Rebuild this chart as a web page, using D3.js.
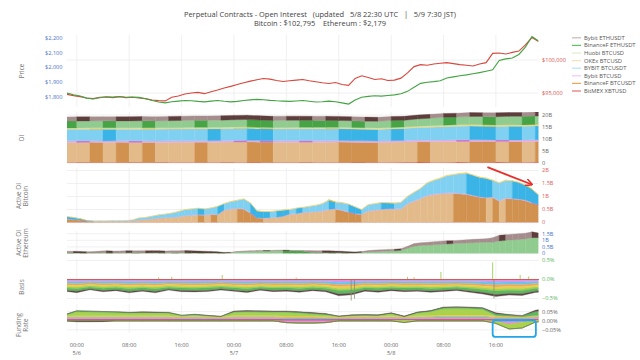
<!DOCTYPE html>
<html><head><meta charset="utf-8">
<script src="https://cdn.jsdelivr.net/npm/d3@7/dist/d3.min.js"></script>
<style>
html,body{margin:0;padding:0;background:#fff;}
svg text{font-family:"Open Sans","DejaVu Sans",sans-serif;}
</style></head>
<body><svg id="chart" width="640" height="360"></svg>
<script>
// ---------------- DATA ----------------
// hourly grid from 5/5 22:30 UTC (73 points)
const ethPrice = [1826,1815,1806,1792,1786,1795,1801,1799,1803,1798,
 1800,1797,1788,1776,1766,1760,1768,1772,1776,1774,
 1770,1767,1772,1776,1771,1767,1770,1776,1780,1784,
 1781,1777,1774,1772,1770,1773,1776,1771,1766,1768,
 1772,1768,1760,1752,1780,1798,1804,1808,1806,1810,
 1814,1822,1838,1866,1892,1900,1904,1910,1928,1936,
 1944,1950,1957,1965,1974,1984,2048,2058,2064,2088,
 2138,2210,2179];
const btcPrice = [94800,94600,94450,94250,94150,94350,94400,94300,94450,94300,
 94350,94250,94150,93950,93850,93800,94350,94550,94850,95000,
 95100,94900,95200,95450,95750,96000,96300,96550,96800,97000,
 97200,97100,96900,96750,96850,96950,97050,96850,96700,96550,
 96450,96600,96300,96150,97200,97600,97350,97050,97150,96900,
 96950,97250,98050,99000,99300,99200,99400,99500,99600,99450,
 99300,99200,99100,99400,99600,101000,101050,100900,101150,101350,
 102300,103400,102795];

// Active OI Bitcoin (B USD), hourly
const abBitmex = [0.01,0.01,0.01,0.01,0.01,0.01,0.01,0.01,0.01,0.01,
 0.01,0.01,0.01,0.01,0.01,0.01,0.01,0.01,0.01,0.01,
 0.01,0.01,0.01,0.01,0.01,0.01,0.01,0.01,0.01,0.01,
 0.01,0.01,0.01,0.01,0.01,0.01,0.01,0.01,0.01,0.01,
 0.01,0.01,0.01,0.01,0.01,0.01,0.01,0.01,0.01,0.01,
 0.01,0.01,0.01,0.01,0.01,0.02,0.02,0.02,0.02,0.02,
 0.02,0.02,0.02,0.02,0.02,0.02,0.02,0.02,0.02,0.02,
 0.02,0.02,0.02];
const abBinBtc = [0.12,0.10,0.08,0.04,0.03,0.03,0.03,0.03,0.03,0.03,
 0.05,0.08,0.10,0.12,0.15,0.17,0.18,0.20,0.24,0.26,
 0.28,0.27,0.30,0.28,0.45,0.50,0.52,0.50,0.35,0.16,
 0.15,0.16,0.18,0.22,0.30,0.32,0.36,0.38,0.40,0.42,
 0.48,0.50,0.45,0.38,0.32,0.30,0.42,0.45,0.48,0.50,
 0.50,0.50,0.70,0.80,0.90,1.00,1.05,1.08,1.10,1.10,
 1.08,1.06,1.00,0.95,0.92,0.94,0.80,0.90,0.88,0.86,
 0.82,0.72,0.65];
const abBybitBtcusd = [0.01,0.01,0.01,0.005,0.005,0.005,0.005,0.005,0.005,0.005,
 0.005,0.01,0.01,0.01,0.01,0.01,0.01,0.015,0.015,0.015,
 0.015,0.015,0.015,0.015,0.02,0.02,0.02,0.02,0.02,0.015,
 0.015,0.015,0.015,0.015,0.015,0.015,0.015,0.015,0.015,0.02,
 0.02,0.02,0.02,0.02,0.015,0.015,0.02,0.02,0.02,0.02,
 0.02,0.02,0.02,0.025,0.025,0.025,0.025,0.025,0.025,0.025,
 0.025,0.025,0.025,0.025,0.025,0.025,0.025,0.025,0.025,0.025,
 0.025,0.025,0.02];
const abBybitBtcusdt = [0.08,0.07,0.04,0.02,0.01,0.01,0.01,0.02,0.02,0.02,
 0.03,0.07,0.07,0.10,0.12,0.13,0.16,0.19,0.23,0.23,
 0.24,0.22,0.23,0.31,0.24,0.27,0.30,0.37,0.37,0.26,
 0.24,0.23,0.24,0.23,0.17,0.20,0.19,0.21,0.23,0.27,
 0.35,0.25,0.28,0.29,0.25,0.17,0.23,0.24,0.25,0.22,
 0.21,0.24,0.27,0.32,0.37,0.47,0.52,0.57,0.65,0.69,
 0.75,0.79,0.77,0.74,0.73,0.63,0.67,0.67,0.67,0.63,
 0.57,0.51,0.37];
const abOkex = [0.01,0.01,0.01,0.005,0.005,0.005,0.005,0.005,0.005,0.005,
 0.005,0.01,0.01,0.01,0.01,0.01,0.01,0.015,0.015,0.015,
 0.015,0.015,0.015,0.015,0.015,0.015,0.015,0.015,0.015,0.015,
 0.015,0.015,0.015,0.015,0.015,0.015,0.015,0.015,0.015,0.015,
 0.02,0.015,0.015,0.015,0.015,0.015,0.015,0.015,0.015,0.015,
 0.015,0.015,0.02,0.02,0.02,0.025,0.025,0.025,0.025,0.025,
 0.025,0.025,0.025,0.025,0.025,0.025,0.025,0.025,0.025,0.025,
 0.025,0.02,0.02];

// Active OI Ethereum (B USD), hourly
const aeBinEth = [0.05,0.04,0.04,0.03,0.03,0.04,0.05,0.04,0.04,0.05,
 0.05,0.04,0.04,0.05,0.06,0.05,0.05,0.04,0.05,0.04,
 0.04,0.03,0.03,0.03,0.02,
 0.06,0.12,0.15,0.16,0.17,0.18,0.19,0.20,0.21,0.20,0.19,0.18,
 0.10,0.07,0.06,0.06,0.05,0.05,0.04,0.04,0.08,0.12,0.14,
 0.16,0.18,0.20,0.24,
 0.40,0.55,0.60,0.63,0.66,0.69,0.72,0.75,0.77,0.79,0.81,0.83,0.85,0.85,0.95,1.00,1.03,1.06,1.10,1.20,1.20];
const aeBybitEth = [0.12,0.13,0.12,0.11,0.12,0.14,0.15,0.14,0.15,0.16,
 0.15,0.16,0.17,0.16,0.15,0.14,0.15,0.16,0.17,0.16,
 0.15,0.14,0.13,0.10,0.06,
 0.03,0.03,0.04,0.04,0.05,0.05,0.04,0.05,0.05,0.04,0.04,0.05,
 0.12,0.14,0.15,0.14,0.13,0.12,0.10,0.08,0.07,0.10,0.12,
 0.12,0.13,0.13,0.12,
 0.15,0.20,0.22,0.22,0.23,0.24,0.24,0.22,0.24,0.25,0.26,0.27,0.27,0.35,0.43,0.42,0.43,0.44,0.44,0.44,0.35];

// OI (B USD), 2-hourly grid from 5/5 22:00 UTC (38 points)
const oiBitmex = [0.35,0.35,0.34,0.35,0.35,0.36,0.35,0.35,0.34,0.35,0.35,0.36,0.36,0.35,0.35,0.34,0.35,0.35,0.35,0.34,0.35,0.35,0.36,0.35,0.35,0.36,0.37,0.37,0.36,0.36,0.37,0.36,0.36,0.37,0.36,0.36,0.37,0.37];
const oiBinBtc = [8.22,8.24,8.26,8.22,8.25,8.21,8.24,8.20,8.23,8.27,8.30,8.27,8.32,8.38,8.42,8.36,8.30,8.32,8.33,8.34,8.35,8.36,8.28,8.22,8.18,8.26,8.38,8.50,8.48,8.56,8.60,8.64,8.60,8.56,8.58,8.54,8.58,8.55];
const oiBybitBtcusd = [0.66,0.66,0.65,0.65,0.66,0.66,0.65,0.65,0.66,0.66,0.67,0.67,0.67,0.68,0.67,0.67,0.66,0.66,0.66,0.65,0.65,0.65,0.66,0.66,0.66,0.67,0.68,0.69,0.69,0.70,0.70,0.69,0.70,0.70,0.69,0.69,0.70,0.70];
const oiBybitBtcusdt = [4.80,4.82,4.85,4.88,4.84,4.86,4.88,4.90,4.92,4.94,4.96,4.98,4.95,5.00,5.05,4.98,4.92,4.94,4.95,4.96,4.97,4.98,4.92,4.86,4.82,4.96,4.94,5.20,5.38,5.52,5.62,5.70,5.66,5.62,5.72,5.68,5.80,5.76];
const oiOkex = [0.40,0.40,0.41,0.40,0.40,0.41,0.41,0.40,0.41,0.41,0.42,0.42,0.42,0.43,0.42,0.42,0.41,0.41,0.41,0.41,0.41,0.40,0.41,0.41,0.42,0.42,0.43,0.44,0.45,0.45,0.45,0.46,0.46,0.45,0.45,0.46,0.46,0.46];
const oiHuobi = [0.15,0.15,0.15,0.15,0.15,0.15,0.15,0.15,0.15,0.15,0.16,0.16,0.16,0.16,0.16,0.15,0.15,0.15,0.15,0.15,0.15,0.15,0.15,0.15,0.15,0.15,0.16,0.16,0.16,0.16,0.16,0.16,0.16,0.16,0.16,0.16,0.16,0.16];
const oiBinEth = [2.90,2.86,2.88,2.91,2.87,2.90,2.93,2.89,2.92,2.95,2.98,2.94,2.98,3.02,3.05,2.99,2.93,2.95,2.97,2.92,2.87,2.82,2.84,2.80,2.82,2.86,2.83,3.00,3.16,3.28,3.26,3.38,3.46,3.42,3.50,3.58,3.54,3.60];
const oiBybitEth = [1.74,1.76,1.73,1.75,1.78,1.76,1.74,1.77,1.79,1.76,1.78,1.80,1.83,1.81,1.78,1.75,1.73,1.74,1.71,1.69,1.72,1.70,1.68,1.71,1.69,1.70,1.66,1.64,1.62,1.63,1.60,1.62,1.59,1.64,1.61,1.58,1.62,1.60];

// Basis (%), 2-hourly
const bBitmex = [-0.010,-0.012,-0.008,-0.010,-0.011,-0.009,-0.010,-0.012,-0.010,-0.009,-0.011,-0.010,-0.008,-0.010,-0.012,-0.010,-0.009,-0.011,-0.010,-0.010,-0.012,-0.015,-0.014,-0.010,-0.011,-0.009,-0.010,-0.012,-0.010,-0.011,-0.010,-0.012,-0.013,-0.016,-0.014,-0.012,-0.010,-0.010];
const bBybitBtcusd = [-0.040,-0.045,-0.035,-0.042,-0.038,-0.046,-0.040,-0.044,-0.036,-0.041,-0.043,-0.039,-0.036,-0.040,-0.044,-0.037,-0.041,-0.039,-0.043,-0.038,-0.041,-0.055,-0.052,-0.040,-0.042,-0.038,-0.041,-0.040,-0.043,-0.041,-0.038,-0.042,-0.048,-0.056,-0.052,-0.054,-0.044,-0.042];
const bBybitBtcusdt = [-0.048,-0.052,-0.044,-0.050,-0.047,-0.054,-0.049,-0.053,-0.045,-0.050,-0.051,-0.048,-0.044,-0.049,-0.053,-0.046,-0.050,-0.048,-0.052,-0.047,-0.050,-0.064,-0.060,-0.048,-0.051,-0.047,-0.050,-0.048,-0.052,-0.049,-0.046,-0.051,-0.057,-0.066,-0.061,-0.063,-0.052,-0.050];
const bBinBtc = [-0.045,-0.050,-0.042,-0.047,-0.044,-0.051,-0.046,-0.050,-0.043,-0.047,-0.048,-0.045,-0.042,-0.046,-0.050,-0.043,-0.047,-0.045,-0.049,-0.044,-0.047,-0.060,-0.057,-0.045,-0.048,-0.044,-0.047,-0.045,-0.049,-0.046,-0.043,-0.048,-0.054,-0.062,-0.058,-0.060,-0.049,-0.047];
const bOkex = [-0.035,-0.038,-0.032,-0.036,-0.034,-0.039,-0.035,-0.038,-0.033,-0.036,-0.037,-0.035,-0.032,-0.035,-0.038,-0.033,-0.036,-0.035,-0.037,-0.034,-0.036,-0.046,-0.044,-0.035,-0.037,-0.034,-0.036,-0.035,-0.037,-0.035,-0.033,-0.037,-0.041,-0.048,-0.045,-0.046,-0.038,-0.036];
const bHuobi = [-0.040,-0.045,-0.036,-0.042,-0.039,-0.046,-0.040,-0.044,-0.037,-0.041,-0.043,-0.040,-0.036,-0.040,-0.044,-0.037,-0.041,-0.040,-0.043,-0.039,-0.041,-0.052,-0.050,-0.040,-0.043,-0.039,-0.041,-0.040,-0.043,-0.040,-0.037,-0.043,-0.048,-0.055,-0.051,-0.052,-0.044,-0.041];
const bBinEth = [-0.06,-0.07,-0.05,-0.065,-0.055,-0.07,-0.06,-0.075,-0.05,-0.065,-0.06,-0.07,-0.055,-0.06,-0.07,-0.05,-0.065,-0.06,-0.07,-0.055,-0.065,-0.09,-0.085,-0.06,-0.07,-0.055,-0.065,-0.06,-0.07,-0.06,-0.055,-0.07,-0.08,-0.095,-0.085,-0.09,-0.07,-0.065];
const bBybitEth = [-0.028,-0.034,-0.024,-0.031,-0.027,-0.036,-0.028,-0.034,-0.025,-0.031,-0.033,-0.028,-0.025,-0.030,-0.034,-0.025,-0.031,-0.028,-0.034,-0.028,-0.031,-0.046,-0.042,-0.028,-0.034,-0.028,-0.031,-0.028,-0.034,-0.031,-0.028,-0.034,-0.040,-0.048,-0.045,-0.045,-0.034,-0.031];
// short basis spikes: [hours after 5/5 22:30, basis %]
const basisSpikes = [[14,0.06],[16,0.07],[23.7,0.12],[35,0.05],[43.4,-0.58],[43.9,-0.5],[52,0.07],[53,0.06],[57.1,0.2],[65.0,0.45],[65.2,-0.5],[69.2,0.12],[70.5,0.08]];

// Funding rate (%), 2-hourly
const fBitmex = [0.010,0.010,0.010,0.010,0.010,0.010,0.010,0.010,0.010,0.010,0.010,0.010,0.010,0.010,0.010,0.010,0.010,0.010,0.010,0.010,0.010,0.010,0.010,0.010,0.010,0.010,0.010,0.010,0.010,0.010,0.010,0.010,0.010,0.010,0.010,0.010,0.010,0.010];
const fBybitBtcusd = [0.004,0.004,0.004,0.004,0.004,0.004,0.004,0.004,0.004,0.003,0.003,0.003,0.002,0.004,0.004,0.004,0.004,-0.010,-0.012,-0.012,-0.010,0.002,0.003,0.003,0.003,0.004,0.002,0.004,0.004,0.005,0.005,0.005,0.005,-0.005,-0.020,-0.010,0.004,0.005];
const fBybitBtcusdt = [0.005,0.006,0.006,0.006,0.006,0.006,0.006,0.006,0.006,0.005,0.006,0.005,0.004,0.006,0.006,0.006,0.006,0.006,0.006,0.006,0.006,0.004,0.005,0.005,0.005,0.006,0.005,0.006,0.006,0.007,0.007,0.007,0.007,0.007,0.006,0.005,0.006,0.007];
const fBinBtc = [0.004,0.004,0.004,0.004,0.004,0.004,0.004,0.004,0.004,0.003,0.004,0.003,0.003,0.005,0.005,0.005,0.005,0.005,0.005,0.005,0.004,0.003,0.004,0.004,0.004,0.004,0.003,0.004,0.005,0.005,0.005,0.005,0.005,0.005,0.005,0.004,0.005,0.005];
const fOkex = [0.003,0.004,0.004,0.004,0.004,0.004,0.004,0.004,0.004,0.003,0.003,0.003,0.002,0.004,0.004,0.004,0.004,0.004,0.004,0.004,0.004,0.002,0.003,0.003,0.003,0.004,0.002,0.004,0.004,0.005,0.005,0.005,0.005,0.005,0.004,0.003,0.004,0.005];
const fHuobi = [0.002,0.021,0.019,0.017,0.016,0.013,0.015,0.014,0.013,0.003,0.005,0.002,0.001,0.016,0.018,0.017,0.016,0.020,0.016,0.011,0.008,0.002,0.003,0.004,0.003,0.010,-0.010,0.014,0.020,0.034,0.035,0.034,0.030,-0.010,-0.025,-0.030,-0.008,0.005];
const fBinEth = [0.003,0.006,0.006,0.006,0.005,0.004,0.004,0.004,0.004,0.003,0.004,0.003,0.002,0.006,0.006,0.006,0.006,0.006,0.006,0.006,0.005,0.002,0.003,0.003,0.003,0.004,0.002,0.004,0.005,0.007,0.007,0.007,0.007,0.012,0.007,0.005,0.022,0.025];
const fBybitEth = [0.002,-0.006,-0.006,-0.005,0.001,0.002,0.002,0.002,0.002,0.001,0.001,0.001,0.001,0.003,0.003,0.003,0.003,0.003,0.003,0.003,0.003,0.001,0.002,0.002,0.002,0.002,0.002,0.002,0.002,0.003,0.003,0.003,0.003,0.005,0.003,0.002,0.007,0.008];

// tick labels
const ethTicks = [1800,1900,2000,2100,2200];
const btcTicks = [95000,100000];
const oiTicks = [0,5,10,15,20];
const abTicks = [0,0.5,1,1.5,2];
const aeTicks = [0,0.5,1,1.5];
const basisTicks = [-0.5,0,0.5];
const fundTicks = [-0.05,0,0.05];

const seriesNames = ["Bybit ETHUSDT","BinanceF ETHUSDT","Huobi BTCUSD","OKEx BTCUSD","BYBIT BTCUSDT","Bybit BTCUSD","BinanceF BTCUSDT","BitMEX XBTUSD"];

// annotations: [hours after start, value]
const arrowAnno = {from:[64.2, 2.13], to:[70.9, 1.47]};
const boxAnno = {from:[65.0, 0.002], to:[71.6, -0.089]};

// ---------------- STYLE ----------------
const C = {
 "Bybit ETHUSDT":   {dark:"#5e3d3d", light:"#a58d8d", solid:"#5e4646", leg:"#c9b6b6"},
 "BinanceF ETHUSDT":{dark:"#46a346", light:"#90cc8f", solid:"#5fb85f", leg:"#62c062"},
 "Huobi BTCUSD":    {dark:"#a8d15a", light:"#d3e9b0", solid:"#a9d34c", leg:"#dcedc8"},
 "OKEx BTCUSD":     {dark:"#f0c030", light:"#f5d575", solid:"#f2cc45", leg:"#f7e2b4"},
 "BYBIT BTCUSDT":   {dark:"#3ab4e6", light:"#80d0f2", solid:"#66c6ef", leg:"#b5e3f8"},
 "Bybit BTCUSD":    {dark:"#d26ed2", light:"#e8a8e8", solid:"#e093e6", leg:"#f2c8f2"},
 "BinanceF BTCUSDT":{dark:"#d19250", light:"#e3bb8a", solid:"#e4aa66", leg:"#f0a552"},
 "BitMEX XBTUSD":   {dark:"#d9534f", light:"#e57b78", solid:"#de5552", leg:"#eea0a0"}
};

const START = Date.UTC(2025,4,5,22,30), END = Date.UTC(2025,4,8,22,30), H = 3600e3;
const GRID2 = Date.UTC(2025,4,5,22,0);
const tHour = ethPrice.map((_,i)=>new Date(START+i*H));
const t2 = oiBitmex.map((_,k)=>new Date(GRID2+2*k*H));

const svg = d3.select("#chart");
const X0 = 67, X1 = 538.5;
const x = d3.scaleTime().domain([new Date(START), new Date(END)]).range([X0, X1]);
const tx = h => x(new Date(START+h*H));

const yEth = d3.scaleLinear([1732,2220],[107,35]);
const yBtc = d3.scaleLinear([92879,103788],[107,35]);
const yOI = d3.scaleLinear([0,21.3],[163,111.9]);
const yAB = d3.scaleLinear([0,2.1],[222.5,167.9]);
const yAE = d3.scaleLinear([0,1.7],[253.5,231.05]);
const yBasis = d3.scaleLinear([-0.55,0.55],[300.4,258.6]);
const yFund = d3.scaleLinear([-0.065,0.09],[332.6,304.4]);

const panels = [
 {id:"price", y:yBtc}, {id:"oi", y:yOI}, {id:"ab", y:yAB}, {id:"ae", y:yAE},
 {id:"basis", y:yBasis}, {id:"fund", y:yFund}
];
const defs = svg.append("defs");
panels.forEach(p=>{
  const r = p.y.range();
  p.top = Math.min(...r); p.bottom = Math.max(...r);
  defs.append("clipPath").attr("id","clip-"+p.id).append("rect")
    .attr("x",X0).attr("y",p.top).attr("width",X1-X0).attr("height",p.bottom-p.top);
});

// grid
const xt = x.ticks(d3.utcHour.every(8));
const grid = svg.append("g").attr("stroke","#ececec").attr("stroke-width",0.8);
panels.forEach(p=>{
  xt.forEach(t=>grid.append("line").attr("x1",x(t)).attr("x2",x(t)).attr("y1",p.top).attr("y2",p.bottom));
});
const hgrid = (ticks, y)=>ticks.forEach(v=>grid.append("line").attr("x1",X0).attr("x2",X1).attr("y1",y(v)).attr("y2",y(v)));
hgrid(btcTicks, yBtc); hgrid(abTicks, yAB); hgrid(aeTicks, yAE); hgrid(basisTicks, yBasis); hgrid(fundTicks, yFund); hgrid(oiTicks, yOI);

// shaded stacked areas: lighter shade where the series grew, darker where it shrank
function shaded(panelId, times, layers, y){
  const g = svg.append("g").attr("clip-path",`url(#clip-${panelId})`);
  const rows = times.map((t,i)=>{ const r={t}; layers.forEach(L=>r[L.name]=L.values[i]); return r; });
  const st = d3.stack().keys(layers.map(L=>L.name))(rows);
  const area = d3.area().x(d=>x(d.data.t)).y0(d=>y(d[0])).y1(d=>y(d[1]));
  st.forEach((s,j)=>{
    const L = layers[j];
    for(let i=0;i<s.length-1;i++){
      const col = L.values[i+1] >= L.values[i] ? C[L.name].light : C[L.name].dark;
      g.append("path").attr("d", area([s[i], s[i+1]])).attr("fill",col).attr("stroke",col).attr("stroke-width",0.35);
    }
  });
}
// solid diverging stack (positive parts up, negative parts down)
function solid(panelId, times, layers, y){
  const g = svg.append("g").attr("clip-path",`url(#clip-${panelId})`);
  [v=>Math.max(v,0), v=>Math.min(v,0)].forEach(f=>{
    const rows = times.map((t,i)=>{ const r={t}; layers.forEach(L=>r[L.name]=f(L.values[i])); return r; });
    const st = d3.stack().keys(layers.map(L=>L.name))(rows);
    const area = d3.area().x(d=>x(d.data.t)).y0(d=>y(d[0])).y1(d=>y(d[1]));
    st.forEach((s,j)=>{
      const col = C[layers[j].name].solid;
      g.append("path").attr("d",area(s)).attr("fill",col).attr("stroke",col).attr("stroke-width",0.3);
    });
  });
}

// OI
shaded("oi", t2, [
 {name:"BitMEX XBTUSD", values:oiBitmex},
 {name:"BinanceF BTCUSDT", values:oiBinBtc},
 {name:"Bybit BTCUSD", values:oiBybitBtcusd},
 {name:"BYBIT BTCUSDT", values:oiBybitBtcusdt},
 {name:"OKEx BTCUSD", values:oiOkex},
 {name:"Huobi BTCUSD", values:oiHuobi},
 {name:"BinanceF ETHUSDT", values:oiBinEth},
 {name:"Bybit ETHUSDT", values:oiBybitEth}], yOI);
// Active OI BTC
shaded("ab", tHour, [
 {name:"BitMEX XBTUSD", values:abBitmex},
 {name:"BinanceF BTCUSDT", values:abBinBtc},
 {name:"Bybit BTCUSD", values:abBybitBtcusd},
 {name:"BYBIT BTCUSDT", values:abBybitBtcusdt},
 {name:"OKEx BTCUSD", values:abOkex}], yAB);
// Active OI ETH
shaded("ae", tHour, [
 {name:"BinanceF ETHUSDT", values:aeBinEth},
 {name:"Bybit ETHUSDT", values:aeBybitEth}], yAE);
// Basis
solid("basis", t2, [
 {name:"BitMEX XBTUSD", values:bBitmex},
 {name:"Bybit BTCUSD", values:bBybitBtcusd},
 {name:"BYBIT BTCUSDT", values:bBybitBtcusdt},
 {name:"BinanceF BTCUSDT", values:bBinBtc},
 {name:"OKEx BTCUSD", values:bOkex},
 {name:"Huobi BTCUSD", values:bHuobi},
 {name:"BinanceF ETHUSDT", values:bBinEth},
 {name:"Bybit ETHUSDT", values:bBybitEth}], yBasis);
{
  const g = svg.append("g").attr("clip-path","url(#clip-basis)");
  basisSpikes.forEach(([h,v])=>g.append("line").attr("x1",tx(h)).attr("x2",tx(h))
    .attr("y1",yBasis(0)).attr("y2",yBasis(v)).attr("stroke", v>0?"#8cc63f":"#8a8f70").attr("stroke-width",0.8));
  g.append("line").attr("x1",X0).attr("x2",X1).attr("y1",yBasis(0)).attr("y2",yBasis(0)).attr("stroke","#de5552").attr("stroke-width",1);
}
// Funding
solid("fund", t2, [
 {name:"BitMEX XBTUSD", values:fBitmex},
 {name:"Bybit BTCUSD", values:fBybitBtcusd},
 {name:"BYBIT BTCUSDT", values:fBybitBtcusdt},
 {name:"BinanceF BTCUSDT", values:fBinBtc},
 {name:"OKEx BTCUSD", values:fOkex},
 {name:"Huobi BTCUSD", values:fHuobi},
 {name:"BinanceF ETHUSDT", values:fBinEth},
 {name:"Bybit ETHUSDT", values:fBybitEth}], yFund);

// Prices
{
  const g = svg.append("g").attr("clip-path","url(#clip-price)");
  g.append("path").datum(btcPrice).attr("fill","none").attr("stroke","#d8473d").attr("stroke-width",1.1)
   .attr("d", d3.line().x((d,i)=>x(tHour[i])).y(d=>yBtc(d)));
  g.append("path").datum(ethPrice).attr("fill","none").attr("stroke","#43a343").attr("stroke-width",1.1)
   .attr("d", d3.line().x((d,i)=>x(tHour[i])).y(d=>yEth(d)));
}

// tick labels
const FS = 5.6;
function rightTicks(ticks, y, fmt, color){
  ticks.forEach(v=>svg.append("text").attr("x",542).attr("y",y(v)).attr("dy","0.35em")
    .attr("font-size",FS).attr("fill",color).text(fmt(v)));
}
ethTicks.forEach(v=>svg.append("text").attr("x",62.5).attr("y",yEth(v)).attr("dy","0.35em")
  .attr("text-anchor","end").attr("font-size",FS).attr("fill","#4a74c9").text("$"+d3.format(",")(v)));
rightTicks(btcTicks, yBtc, v=>"$"+d3.format(",")(v), "#d9534f");
rightTicks(oiTicks, yOI, v=>v===0?"0":v+"B", "#666");
rightTicks(abTicks, yAB, v=>v===0?"0":v+"B", "#e0605c");
rightTicks(aeTicks, yAE, v=>v===0?"0":v+"B", "#4a74c9");
rightTicks(basisTicks, yBasis, v=>d3.format(".1f")(v).replace("-","\u2212")+"%", "#5cb85c");
rightTicks(fundTicks, yFund, v=>d3.format(".2f")(v).replace("-","\u2212")+"%", "#666");

// x axis labels
xt.forEach(t=>{
  svg.append("text").attr("x",x(t)).attr("y",347).attr("text-anchor","middle").attr("font-size",FS).attr("fill","#666").text(d3.utcFormat("%H:%M")(t));
  if(t.getUTCHours()===0) svg.append("text").attr("x",x(t)).attr("y",355).attr("text-anchor","middle").attr("font-size",FS).attr("fill","#666").text(d3.utcFormat("%-m/%-d")(t));
});

// axis titles
function ytitle(lines, cy){
  const n = lines.length;
  lines.forEach((s,i)=>{
    const xx = 22 + (i-(n-1)/2)*7.5;
    svg.append("text").attr("transform",`translate(${xx},${cy}) rotate(-90)`).attr("text-anchor","middle")
      .attr("dy","0.35em").attr("font-size",6.4).attr("fill","#777").text(s);
  });
}
ytitle(["Price"], 71); ytitle(["OI"], 138); ytitle(["Active OI","Bitcoin"], 196);
ytitle(["Active OI","Ethereum"], 243); ytitle(["Basis"], 287); ytitle(["Funding","Rate"], 325);

// title
svg.append("text").attr("x",320).attr("y",16.5).attr("text-anchor","middle").attr("font-size",7.45).attr("fill","#444")
  .style("white-space","pre").text("Perpetual Contracts - Open Interest   (updated   5/8 22:30 UTC   |   5/9 7:30 JST)");
svg.append("text").attr("x",320).attr("y",26).attr("text-anchor","middle").attr("font-size",7.45).attr("fill","#444")
  .style("white-space","pre").text("Bitcoin : $102,795    Ethereum : $2,179");

// legend
seriesNames.forEach((n,i)=>{
  const yy = 37.8 + i*7.6;
  svg.append("line").attr("x1",572).attr("x2",581).attr("y1",yy).attr("y2",yy).attr("stroke",C[n].leg).attr("stroke-width", n==="BitMEX XBTUSD"?1.8:1.2);
  svg.append("text").attr("x",584).attr("y",yy).attr("dy","0.35em").attr("font-size",5.8).attr("fill","#555").text(n);
});

// annotations
svg.append("defs").append("marker").attr("id","ah").attr("viewBox","0 0 10 10").attr("refX",8).attr("refY",5)
  .attr("markerWidth",4).attr("markerHeight",4).attr("orient","auto")
  .append("path").attr("d","M0,0 L10,5 L0,10").attr("fill","none").attr("stroke","#e8302a").attr("stroke-width",2.2);
svg.append("line").attr("x1",tx(arrowAnno.from[0])).attr("y1",yAB(arrowAnno.from[1]))
  .attr("x2",tx(arrowAnno.to[0])).attr("y2",yAB(arrowAnno.to[1]))
  .attr("stroke","#e8302a").attr("stroke-width",1.8).attr("marker-end","url(#ah)");
svg.append("rect").attr("x",tx(boxAnno.from[0])).attr("y",yFund(boxAnno.from[1]))
  .attr("width",tx(boxAnno.to[0])-tx(boxAnno.from[0])).attr("height",yFund(boxAnno.to[1])-yFund(boxAnno.from[1]))
  .attr("rx",3).attr("fill","none").attr("stroke","#25a5e8").attr("stroke-width",1.8);
</script></body></html>
